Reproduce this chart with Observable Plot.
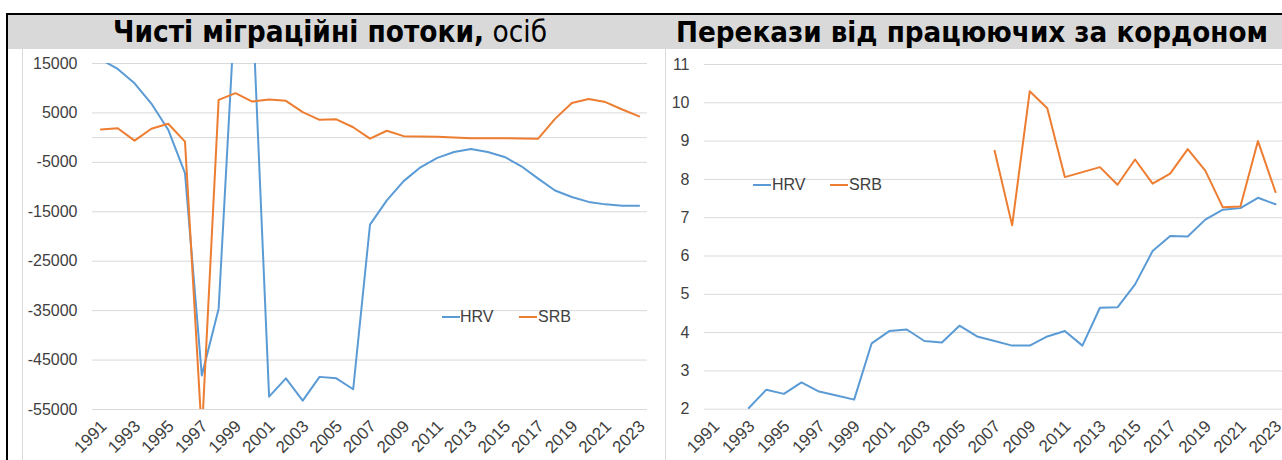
<!DOCTYPE html>
<html><head><meta charset="utf-8">
<script src="https://cdn.jsdelivr.net/npm/d3@7"></script>
<script src="https://cdn.jsdelivr.net/npm/@observablehq/plot@0.6"></script>
<style>
html,body{margin:0;padding:0;background:#fff;}
body{width:1282px;height:460px;overflow:hidden;position:relative;font-family:"Liberation Sans",Arial,sans-serif;}
.abs{position:absolute;}
.title{position:absolute;top:15px;height:34px;line-height:34px;white-space:nowrap;transform:translateX(-50%);font-family:"DejaVu Sans Condensed","DejaVu Sans",sans-serif;font-size:24px;color:#000;}
.title b{font-weight:bold;}
.title span.reg{font-weight:normal;}
.leg{position:absolute;font-size:16px;color:#404040;line-height:16px;white-space:nowrap;}
.legline{position:absolute;height:2px;}
</style></head><body>
<div class="abs" style="left:6px;top:13px;width:1276px;height:2px;background:#000"></div>
<div class="abs" style="left:6px;top:13px;width:2px;height:447px;background:#000"></div>
<div class="abs" style="left:8px;top:15px;width:1274px;height:34px;background:#d9d9d9"></div>
<div class="abs" style="left:22px;top:49px;width:1px;height:411px;background:#d9d9d9"></div>
<div class="abs" style="left:665px;top:49px;width:1px;height:411px;background:#d9d9d9"></div>
<div id="t1" class="title" style="left:330px"><b>Чисті міграційні потоки,</b> <span class="reg">осіб</span></div>
<div id="t2" class="title" style="left:972px"><b>Перекази від працюючих за кордоном</b></div>
<div id="c1" class="abs" style="left:8px;top:49px"></div>
<div id="c2" class="abs" style="left:664px;top:49px"></div>
<div class="legline" style="left:442px;top:316px;width:18px;background:#5b9bd5"></div>
<div class="leg" style="left:460px;top:309px">HRV</div>
<div class="legline" style="left:519px;top:316px;width:18px;background:#ed7d31"></div>
<div class="leg" style="left:538px;top:309px">SRB</div>
<div class="legline" style="left:753px;top:184px;width:18px;background:#5b9bd5"></div>
<div class="leg" style="left:772px;top:177px">HRV</div>
<div class="legline" style="left:830px;top:184px;width:18px;background:#ed7d31"></div>
<div class="leg" style="left:849px;top:177px">SRB</div>
<script>
const years = [1991,1992,1993,1994,1995,1996,1997,1998,1999,2000,2001,2002,2003,2004,2005,2006,2007,2008,2009,2010,2011,2012,2013,2014,2015,2016,2017,2018,2019,2020,2021,2022,2023];
const xTickYears = [1991,1993,1995,1997,1999,2001,2003,2005,2007,2009,2011,2013,2015,2017,2019,2021,2023];
const seriesNames = ["HRV","SRB"];
const seriesColors = ["#5b9bd5","#ed7d31"];

// Net migration flows, persons
const migHRV = [15800,13900,11000,6900,1600,-7200,-48100,-34600,28000,27500,-52400,-48700,-53200,-48400,-48700,-50900,-17600,-12700,-8800,-6000,-4100,-2900,-2300,-2900,-3900,-5800,-8300,-10700,-12000,-13000,-13500,-13800,-13800];
const migSRB = [1650,1900,-600,1800,2800,-800,-60000,7650,9000,7300,7700,7450,5150,3600,3700,2100,-200,1400,300,230,170,30,-100,-100,-100,-170,-200,3800,7000,7800,7200,5700,4300];
const migTicks = [15000,5000,-5000,-15000,-25000,-35000,-45000,-55000];

// Remittances from workers abroad
const remHRV = [null,null,2.03,2.51,2.40,2.70,2.46,2.36,2.25,3.72,4.04,4.08,3.78,3.74,4.18,3.90,3.78,3.66,3.66,3.90,4.04,3.66,4.65,4.66,5.26,6.13,6.52,6.51,6.95,7.21,7.25,7.52,7.35];
const remSRB = [null,null,null,null,null,null,null,null,null,null,null,null,null,null,null,null,8.75,6.80,10.30,9.86,8.06,8.19,8.32,7.86,8.52,7.89,8.15,8.79,8.23,7.27,7.29,9.00,7.67];
const remTicks = [2,3,4,5,6,7,8,9,10,11];

function rows(a, b) {
  const out = [];
  years.forEach((y, i) => { if (a[i] != null) out.push({year: y, value: a[i], series: seriesNames[0]}); });
  years.forEach((y, i) => { if (b[i] != null) out.push({year: y, value: b[i], series: seriesNames[1]}); });
  return out;
}
const style = {fontFamily: '"Liberation Sans", Arial, sans-serif', fontSize: "16px", color: "#404040", background: "transparent", overflow: "hidden"};
const color = {domain: seriesNames, range: seriesColors};

const p1 = Plot.plot({
  width: 656, height: 411,
  marginLeft: 84, marginRight: 17, marginTop: 14, marginBottom: 51,
  style, color,
  x: {domain: [1990.5, 2023.5]},
  y: {domain: [-55000, 15000]},
  marks: [
    Plot.ruleY(migTicks, {stroke: "#d9d9d9", strokeWidth: 1}),
    Plot.ruleY([0], {stroke: "#d9d9d9", strokeWidth: 1}),
    Plot.axisY({ticks: migTicks, tickSize: 0, tickPadding: 15, tickFormat: d => String(d), label: null, fontSize: 16}),
    Plot.axisX({ticks: xTickYears, tickSize: 0, tickPadding: 14, tickRotate: -45, tickFormat: d => String(d), label: null, fontSize: 17, dx: 3}),
    Plot.line(rows(migHRV, migSRB), {x: "year", y: "value", stroke: "series", z: "series", strokeWidth: 2, clip: true})
  ]
});
document.getElementById("c1").appendChild(p1);

const p2 = Plot.plot({
  width: 618, height: 411,
  marginLeft: 40, marginRight: 0, marginTop: 15, marginBottom: 51,
  style, color,
  x: {domain: [1990.5, 2023.5], range: [40.4, 619.8]},
  y: {domain: [2, 11], range: [359.7, 15]},
  marks: [
    Plot.ruleY(remTicks, {stroke: "#d9d9d9", strokeWidth: 1}),
    Plot.axisY({ticks: remTicks, tickSize: 0, tickPadding: 15, tickFormat: d => String(d), label: null, fontSize: 16}),
    Plot.axisX({ticks: xTickYears, tickSize: 0, tickPadding: 14, tickRotate: -45, tickFormat: d => String(d), label: null, fontSize: 17, dx: 3}),
    Plot.line(rows(remHRV, remSRB), {x: "year", y: "value", stroke: "series", z: "series", strokeWidth: 2})
  ]
});
document.getElementById("c2").appendChild(p2);

function fit(id, target) {
  const el = document.getElementById(id);
  const w = el.getBoundingClientRect().width;
  const fs = parseFloat(getComputedStyle(el).fontSize);
  el.style.fontSize = (fs * target / w) + "px";
}
function fitAll(){ fit("t1", 434); fit("t2", 592); }
fitAll();
if (document.fonts && document.fonts.ready) document.fonts.ready.then(fitAll);
</script>
</body></html>
